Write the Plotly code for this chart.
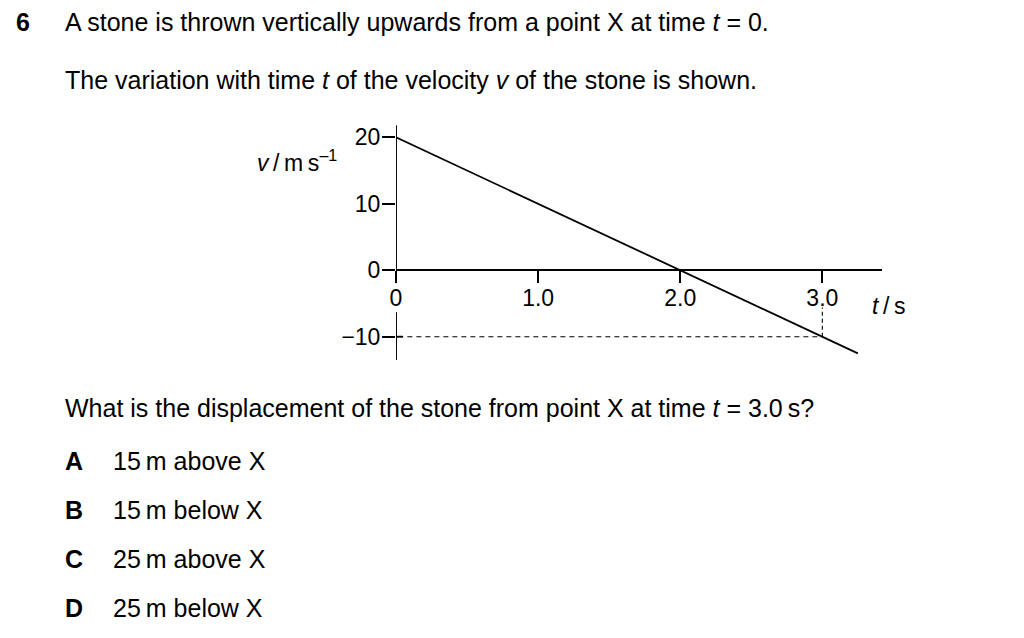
import plotly.graph_objects as go

# ---- data ----
t_line = [0.0, 3.25]          # time / s
v_line = [20.0, -12.5]        # velocity / m s^-1
y_tick_vals = [-10, 0, 10, 20]
y_tick_text = ["\u221210", "0", "10", "20"]
x_tick_vals = [0, 1, 2, 3]
x_tick_text = ["0", "1.0", "2.0", "3.0"]
mark_t = 3.0
mark_v = -10.0

question_lines = [
    "A stone is thrown vertically upwards from a point X at time <i>t</i> = 0.",
    "The variation with time <i>t</i> of the velocity <i>v</i> of the stone is shown.",
    "What is the displacement of the stone from point X at time <i>t</i> = 3.0\u2009s?",
]
option_letters = ["A", "B", "C", "D"]
option_texts = ["15\u2009m above X", "15\u2009m below X", "25\u2009m above X", "25\u2009m below X"]

# ---- layout geometry (page body has an 8px margin) ----
OFF = 8
W, H = 1008, 622
PW, PH = 486, 236
L, T = 396 - OFF, 124 - OFF
R = W - L - PW
B = H - T - PH
XR = [0, 3.42]
YR = [-13.5, 22]
FONT = "Liberation Sans, Arial, sans-serif"
FS = 25
TFS = 23
LW = 1.9


def px(x):
    return (x - OFF - L) / PW


def py(y):
    return (H - B - (y - OFF)) / PH


fig = go.Figure()
fig.add_trace(go.Scatter(x=t_line, y=v_line, mode="lines",
                         line=dict(color="black", width=1.8),
                         hoverinfo="skip", showlegend=False))

shapes = []
# y axis line, with a gap around the "0" label
shapes.append(dict(type="line", xref="x", yref="y", x0=0, x1=0, y0=YR[1] - 0.2, y1=-1.95,
                   line=dict(color="black", width=LW)))
shapes.append(dict(type="line", xref="x", yref="y", x0=0, x1=0, y0=-6.3, y1=YR[0],
                   line=dict(color="black", width=LW)))
# right part of the -10 tick
shapes.append(dict(type="line", xref="x", yref="y", x0=0, x1=0.05, y0=mark_v, y1=mark_v,
                   line=dict(color="black", width=LW)))
# dashed guide lines
shapes.append(dict(type="line", xref="x", yref="y", x0=0.08, x1=mark_t, y0=mark_v, y1=mark_v,
                   line=dict(color="black", width=1.1, dash="5px,4px")))
shapes.append(dict(type="line", xref="x", yref="y", x0=mark_t, x1=mark_t, y0=mark_v, y1=-5.6,
                   line=dict(color="black", width=1.1, dash="4px,3px")))

ann = []


def text(x, y, s, size=FS):
    ann.append(dict(xref="paper", yref="paper", x=px(x), y=py(y), text=s,
                    showarrow=False, xanchor="left", yanchor="middle",
                    font=dict(family=FONT, size=size, color="black")))


text(14, 22, "<b>6</b>")
text(63, 22, question_lines[0])
text(63, 80, question_lines[1])
text(63, 408, question_lines[2])
for i, (lt, ot) in enumerate(zip(option_letters, option_texts)):
    yy = 461 + 49 * i
    text(63, yy, "<b>" + lt + "</b>")
    text(111, yy, ot)

text(255, 161, "<i>v</i>\u2009/\u2009m\u2009s<sup>\u20131</sup>", size=23)
text(870, 306, "<i>t</i>\u2009/\u2009s", size=23)

fig.update_layout(
    width=W, height=H, autosize=False,
    margin=dict(l=L, r=R, t=T, b=B, pad=0),
    paper_bgcolor="white", plot_bgcolor="white",
    shapes=shapes, annotations=ann, showlegend=False,
    xaxis=dict(range=XR, anchor="free", position=(0 - YR[0]) / (YR[1] - YR[0]),
               showline=True, linecolor="black", linewidth=LW,
               showgrid=False, zeroline=False,
               ticks="outside", ticklen=12, tickwidth=LW, tickcolor="black",
               tickvals=x_tick_vals, ticktext=x_tick_text,
               tickfont=dict(family=FONT, size=TFS, color="black"),
               ticklabelstandoff=-5, fixedrange=True),
    yaxis=dict(range=YR, showline=False, showgrid=False, zeroline=False,
               ticks="outside", ticklen=13, tickwidth=LW, tickcolor="black",
               tickvals=y_tick_vals, ticktext=y_tick_text,
               tickfont=dict(family=FONT, size=TFS, color="black"),
               ticklabelstandoff=-3, fixedrange=True),
)

fig.write_html("out.html", config={"displayModeBar": False})
